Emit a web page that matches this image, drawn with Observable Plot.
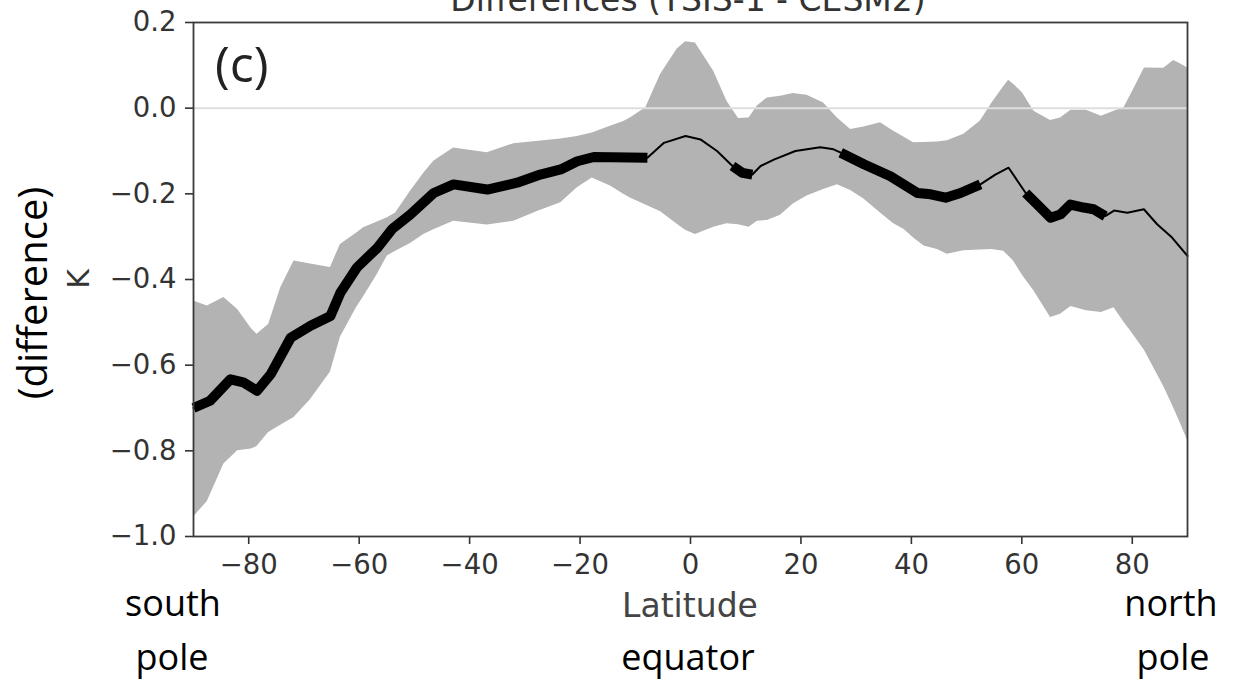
<!DOCTYPE html>
<html>
<head>
<meta charset="utf-8">
<script src="https://cdn.jsdelivr.net/npm/d3@7"></script>
<script src="https://cdn.jsdelivr.net/npm/@observablehq/plot@0.6"></script>
<style>
  html, body { margin: 0; padding: 0; background: #fff; overflow: hidden; }
  #wrap { position: relative; width: 1233px; height: 681px; }
  #overlay { position: absolute; left: 0; top: 0; pointer-events: none; }
  #chart svg g[aria-label="x-axis tick"], #chart svg g[aria-label="y-axis tick"] { stroke-width: 1.6; }
</style>
</head>
<body>
<div id="wrap">
  <div id="chart"></div>
  <svg id="overlay" width="1233" height="681">
    <text x="688" y="11" text-anchor="middle" font-family="DejaVu Sans" font-size="33" fill="#333">Differences (TSIS-1 - CESM2)</text>
    <text x="215" y="82" font-family="Open Sans" font-size="50" fill="#222">(c)</text>
    <text transform="translate(89,279) rotate(-90)" text-anchor="middle" font-family="DejaVu Sans" font-size="30" fill="#333">K</text>
    <text transform="translate(47,293) rotate(-90)" text-anchor="middle" font-family="Open Sans" font-size="40" fill="#000">(difference)</text>
    <text x="690" y="617" text-anchor="middle" font-family="DejaVu Sans" font-size="33" fill="#444">Latitude</text>
    <text x="173" y="616" text-anchor="middle" font-family="Open Sans" font-size="36" fill="#000">south</text>
    <text x="172" y="670" text-anchor="middle" font-family="Open Sans" font-size="36" fill="#000">pole</text>
    <text x="688" y="670" text-anchor="middle" font-family="Open Sans" font-size="36" fill="#000">equator</text>
    <text x="1171" y="616" text-anchor="middle" font-family="Open Sans" font-size="36" fill="#000">north</text>
    <text x="1173" y="670" text-anchor="middle" font-family="Open Sans" font-size="36" fill="#000">pole</text>
  </svg>
</div>
<script>
// ---- data ----
const xTicks = [-80, -60, -40, -20, 0, 20, 40, 60, 80];
const yTicks = [0.2, 0.0, -0.2, -0.4, -0.6, -0.8, -1.0];

// spread band (grey)
const bandLat  = [-90, -87.5, -84.5, -82, -79.5, -78.5, -76.4, -74.2, -71.8, -68.8, -65.2, -63.4, -60.5, -59.2, -56.7, -54.9, -53.4, -50.7, -48.3, -46.5, -42.9, -36.8, -32.0, -27.5, -23.5, -20.5, -17.8, -14.5, -12.1, -10.9, -8.1, -5.4, -2.4, -0.9, 0.9, 4.2, 6.6, 8.7, 10.6, 12.1, 13.9, 16.3, 18.6, 21.1, 24.1, 26.6, 29.0, 31.4, 34.4, 36.8, 38.7, 40.4, 42.3, 44.7, 46.5, 49.5, 52.5, 54.6, 56.7, 57.6, 58.5, 60.1, 62.2, 65.2, 67.0, 68.9, 71.7, 74.4, 76.7, 78.5, 79.7, 82.2, 85.7, 87.5, 88.6, 90];
const bandHigh = [-0.450, -0.462, -0.442, -0.470, -0.515, -0.528, -0.505, -0.419, -0.357, -0.364, -0.372, -0.318, -0.292, -0.279, -0.266, -0.256, -0.245, -0.194, -0.152, -0.124, -0.093, -0.104, -0.083, -0.077, -0.072, -0.066, -0.058, -0.042, -0.031, -0.023, 0.001, 0.079, 0.138, 0.155, 0.152, 0.086, 0.016, -0.024, -0.023, 0.005, 0.024, 0.028, 0.034, 0.030, 0.012, -0.023, -0.050, -0.044, -0.034, -0.054, -0.068, -0.081, -0.080, -0.079, -0.076, -0.061, -0.030, 0.012, 0.050, 0.065, 0.056, 0.036, -0.007, -0.029, -0.023, -0.005, -0.005, -0.019, -0.007, 0.001, 0.030, 0.094, 0.093, 0.111, 0.104, 0.094];
const bandLow  = [-0.955, -0.918, -0.831, -0.800, -0.796, -0.790, -0.757, -0.740, -0.722, -0.680, -0.616, -0.535, -0.466, -0.440, -0.388, -0.345, -0.334, -0.316, -0.295, -0.284, -0.264, -0.273, -0.264, -0.240, -0.221, -0.186, -0.163, -0.182, -0.201, -0.210, -0.226, -0.242, -0.271, -0.285, -0.295, -0.278, -0.270, -0.272, -0.278, -0.264, -0.262, -0.250, -0.224, -0.205, -0.190, -0.179, -0.192, -0.212, -0.245, -0.270, -0.283, -0.303, -0.322, -0.330, -0.341, -0.333, -0.331, -0.330, -0.334, -0.345, -0.357, -0.390, -0.427, -0.489, -0.481, -0.463, -0.473, -0.477, -0.466, -0.500, -0.520, -0.565, -0.650, -0.700, -0.732, -0.775];

// mean difference (black line); sig = 1 where drawn thick (significant)
const meanLat = [-90, -87, -83.3, -81, -78.5, -76, -72.4, -68.8, -65.2, -63.4, -60.4, -56.7, -54, -50.7, -46.5, -42.9, -36.8, -31.4, -27.2, -23.5, -20.5, -17.5, -7.8, -4.8, -0.9, 1.8, 4.8, 7.6, 9.4, 11.2, 12.7, 15.1, 19, 23.5, 25.9, 27.2, 31.4, 36.2, 41.1, 43.5, 46.2, 48.9, 52.5, 55.2, 57.6, 60.7, 62.8, 65.2, 67, 68.8, 71.2, 73, 75.1, 76.7, 79.1, 82.1, 84.5, 87.2, 90];
const meanVal = [-0.700, -0.683, -0.633, -0.640, -0.660, -0.621, -0.536, -0.508, -0.485, -0.431, -0.372, -0.326, -0.282, -0.248, -0.198, -0.178, -0.190, -0.174, -0.155, -0.143, -0.124, -0.114, -0.116, -0.081, -0.065, -0.073, -0.100, -0.135, -0.151, -0.155, -0.135, -0.120, -0.100, -0.091, -0.096, -0.104, -0.131, -0.159, -0.198, -0.201, -0.209, -0.198, -0.178, -0.155, -0.139, -0.198, -0.225, -0.256, -0.248, -0.225, -0.232, -0.236, -0.252, -0.239, -0.244, -0.236, -0.271, -0.302, -0.345];
const meanSig = [1, 1, 1, 1, 1, 1, 1, 1, 1, 1, 1, 1, 1, 1, 1, 1, 1, 1, 1, 1, 1, 1, 1, 0, 0, 0, 0, 1, 1, 1, 0, 0, 0, 0, 0, 1, 1, 1, 1, 1, 1, 1, 1, 0, 0, 1, 1, 1, 1, 1, 1, 1, 1, 0, 0, 0, 0, 0, 0];

// ---- tables built from the arrays ----
const band = bandLat.map((lat, i) => ({lat, hi: bandHigh[i], lo: bandLow[i]}));
let run = 0;
const mean = meanLat.map((lat, i) => {
  if (i > 0 && meanSig[i] && !meanSig[i - 1]) run++;
  return {lat, v: meanVal[i], sig: meanSig[i], run};
});
const thick = mean.filter(d => d.sig);

const chart = Plot.plot({
  width: 1233,
  height: 681,
  marginLeft: 193,
  marginRight: 46,
  marginTop: 22,
  marginBottom: 145,
  style: {fontFamily: "DejaVu Sans", fontSize: "27.5px", color: "#333", background: "#fff", overflow: "visible"},
  x: {domain: [-90, 90], ticks: xTicks, tickSize: 8, tickPadding: 10, tickFormat: d3.format("d"), label: null},
  y: {domain: [-1.0, 0.2], ticks: yTicks, tickSize: 8, tickPadding: 9, tickFormat: d3.format(".1f"), label: null},
  marks: [
    Plot.areaY(band, {x: "lat", y1: "lo", y2: "hi", fill: "#b3b3b3", curve: "linear"}),
    Plot.ruleY([0], {stroke: "#dedede", strokeWidth: 2}),
    Plot.line(mean, {x: "lat", y: "v", stroke: "#000", strokeWidth: 2}),
    Plot.line(thick, {x: "lat", y: "v", z: "run", stroke: "#000", strokeWidth: 10, strokeLinecap: "butt", strokeLinejoin: "round"}),
    Plot.frame({stroke: "#3a3a3a", strokeWidth: 1.8})
  ]
});
document.getElementById("chart").appendChild(chart);
</script>
</body>
</html>
